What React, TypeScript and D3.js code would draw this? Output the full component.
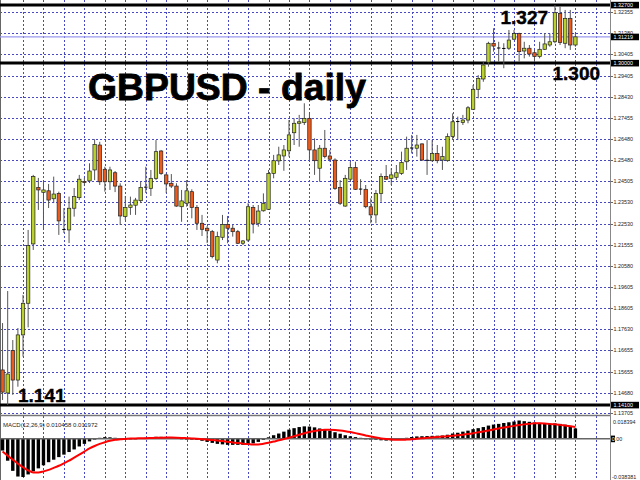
import React from "react";
import * as d3 from "d3";

// ---- data ----
const opens = [
  1.1573, 1.1466, 1.1663, 1.1526, 1.1736, 1.1883, 1.2159, 1.2422, 1.2399, 1.2406,
  1.2369, 1.2394, 1.2228, 1.2224, 1.2325, 1.2374, 1.2450, 1.2452, 1.2503, 1.2619,
  1.2506, 1.2448, 1.2490, 1.2428, 1.2286, 1.2329, 1.2339, 1.2360, 1.2422, 1.2417,
  1.2464, 1.2591, 1.2480, 1.2441, 1.2428, 1.2332, 1.2348, 1.2402, 1.2329, 1.2255,
  1.2232, 1.2216, 1.2084, 1.2190, 1.2250, 1.2232, 1.2216, 1.2162, 1.2177, 1.2329,
  1.2255, 1.2313, 1.2320, 1.2487, 1.2545, 1.2568, 1.2592, 1.2676, 1.2720, 1.2723,
  1.2743, 1.2596, 1.2511, 1.2604, 1.2568, 1.2549, 1.2422, 1.2335, 1.2460, 1.2515,
  1.2413, 1.2413, 1.2332, 1.2294, 1.2394, 1.2472, 1.2464, 1.2469, 1.2487, 1.2541,
  1.2604, 1.2604, 1.2624, 1.2549, 1.2546, 1.2580, 1.2549, 1.2546, 1.2658, 1.2727,
  1.2723, 1.2735, 1.2785, 1.2878, 1.2926, 1.3004, 1.3092, 1.3069, 1.3069, 1.3069,
  1.3111, 1.3138, 1.3056, 1.3069, 1.3048, 1.3030, 1.3064, 1.3084, 1.3099, 1.3231,
  1.3092, 1.3208, 1.3084,
];
const highs = [
  1.1791, 1.1940, 1.1712, 1.1768, 1.1922, 1.2224, 1.2480, 1.2466, 1.2456, 1.2438,
  1.2472, 1.2402, 1.2326, 1.2379, 1.2419, 1.2480, 1.2466, 1.2534, 1.2646, 1.2634,
  1.2518, 1.2518, 1.2498, 1.2441, 1.2382, 1.2379, 1.2373, 1.2448, 1.2518, 1.2503,
  1.2642, 1.2596, 1.2487, 1.2484, 1.2441, 1.2410, 1.2456, 1.2413, 1.2340, 1.2294,
  1.2242, 1.2224, 1.2216, 1.2294, 1.2289, 1.2247, 1.2224, 1.2177, 1.2348, 1.2340,
  1.2340, 1.2394, 1.2503, 1.2573, 1.2611, 1.2619, 1.2735, 1.2743, 1.2759, 1.2813,
  1.2766, 1.2650, 1.2619, 1.2689, 1.2596, 1.2557, 1.2456, 1.2480, 1.2541, 1.2541,
  1.2460, 1.2433, 1.2371, 1.2410, 1.2487, 1.2526, 1.2511, 1.2526, 1.2588, 1.2658,
  1.2666, 1.2666, 1.2627, 1.2642, 1.2642, 1.2619, 1.2611, 1.2673, 1.2766, 1.2751,
  1.2759, 1.2800, 1.2898, 1.2944, 1.3006, 1.3099, 1.3162, 1.3099, 1.3092, 1.3154,
  1.3154, 1.3141, 1.3099, 1.3084, 1.3061, 1.3099, 1.3138, 1.3138, 1.3270, 1.3262,
  1.3247, 1.3247, 1.3138,
];
const lows = [
  1.1433, 1.1410, 1.1457, 1.1495, 1.1635, 1.1771, 1.2131, 1.2317, 1.2233, 1.2326,
  1.2349, 1.2201, 1.2210, 1.2163, 1.2286, 1.2363, 1.2428, 1.2442, 1.2456, 1.2433,
  1.2402, 1.2410, 1.2400, 1.2247, 1.2270, 1.2294, 1.2294, 1.2349, 1.2396, 1.2382,
  1.2456, 1.2480, 1.2396, 1.2419, 1.2332, 1.2262, 1.2332, 1.2278, 1.2224, 1.2196,
  1.2163, 1.2092, 1.2069, 1.2177, 1.2162, 1.2193, 1.2159, 1.2154, 1.2169, 1.2208,
  1.2239, 1.2309, 1.2317, 1.2464, 1.2526, 1.2499, 1.2565, 1.2619, 1.2611, 1.2712,
  1.2549, 1.2480, 1.2448, 1.2557, 1.2541, 1.2410, 1.2340, 1.2332, 1.2448, 1.2410,
  1.2387, 1.2325, 1.2255, 1.2255, 1.2355, 1.2456, 1.2433, 1.2456, 1.2480, 1.2503,
  1.2580, 1.2565, 1.2545, 1.2480, 1.2541, 1.2534, 1.2503, 1.2541, 1.2642, 1.2642,
  1.2712, 1.2720, 1.2782, 1.2836, 1.2913, 1.2983, 1.3053, 1.3006, 1.2976, 1.3061,
  1.3107, 1.3006, 1.3022, 1.3030, 1.3006, 1.3022, 1.3061, 1.3076, 1.3092, 1.3084,
  1.3069, 1.3061, 1.3076,
];
const closes = [
  1.1470, 1.1554, 1.1526, 1.1736, 1.1883, 1.2151, 1.2472, 1.2410, 1.2410, 1.2363,
  1.2391, 1.2266, 1.2226, 1.2325, 1.2379, 1.2460, 1.2444, 1.2498, 1.2622, 1.2448,
  1.2448, 1.2503, 1.2428, 1.2289, 1.2329, 1.2340, 1.2363, 1.2422, 1.2423, 1.2464,
  1.2588, 1.2487, 1.2438, 1.2428, 1.2335, 1.2359, 1.2406, 1.2329, 1.2255, 1.2227,
  1.2220, 1.2100, 1.2193, 1.2250, 1.2232, 1.2216, 1.2162, 1.2173, 1.2332, 1.2252,
  1.2312, 1.2348, 1.2487, 1.2546, 1.2573, 1.2596, 1.2666, 1.2720, 1.2727, 1.2743,
  1.2596, 1.2546, 1.2604, 1.2565, 1.2553, 1.2417, 1.2348, 1.2464, 1.2515, 1.2413,
  1.2414, 1.2332, 1.2294, 1.2394, 1.2472, 1.2460, 1.2480, 1.2490, 1.2537, 1.2604,
  1.2605, 1.2619, 1.2549, 1.2548, 1.2580, 1.2546, 1.2565, 1.2658, 1.2727, 1.2728,
  1.2735, 1.2792, 1.2878, 1.2929, 1.2991, 1.3092, 1.3079, 1.3070, 1.3068, 1.3107,
  1.3138, 1.3053, 1.3069, 1.3042, 1.3030, 1.3064, 1.3089, 1.3099, 1.3234, 1.3095,
  1.3208, 1.3084, 1.31219,
];
const macdMain = [
  -0.0118, -0.0220, -0.0322, -0.0379, -0.038381, -0.0358, -0.0327, -0.0297, -0.0266, -0.0235,
  -0.0210, -0.0184, -0.0159, -0.0133, -0.0107, -0.0077, -0.0051, -0.0026, -0.0005, 0.0010,
  0.0017, 0.0015, 0.0010, 0.0005, 0.0003, 0.0002, 0.0003, 0.0007, 0.0010, 0.0013,
  0.0020, 0.0020, 0.0017, 0.0013, 0.0007, 0.0003, 0.0000, -0.0005, -0.0011, -0.0020,
  -0.0031, -0.0041, -0.0051, -0.0056, -0.0061, -0.0061, -0.0061, -0.0061, -0.0056, -0.0046,
  -0.0031, -0.0010, 0.0015, 0.0036, 0.0053, 0.0072, 0.0092, 0.0107, 0.0118, 0.0125,
  0.0123, 0.0115, 0.0104, 0.0094, 0.0082, 0.0066, 0.0051, 0.0036, 0.0026, 0.0017,
  0.0010, 0.0003, -0.0003, -0.0009, -0.0015, -0.0018, -0.0015, -0.0010, -0.0003, 0.0010,
  0.0018, 0.0024, 0.0026, 0.0028, 0.0030, 0.0031, 0.0033, 0.0041, 0.0053, 0.0061,
  0.0072, 0.0082, 0.0097, 0.0107, 0.0118, 0.0133, 0.0143, 0.0150, 0.0159, 0.0166,
  0.0174, 0.018394, 0.0177, 0.0171, 0.0164, 0.0160, 0.0157, 0.0153, 0.0155, 0.0150,
  0.0142, 0.0130, 0.010458,
];
const macdSignal = [
  -0.0128, -0.0169, -0.0210, -0.0251, -0.0286, -0.0317, -0.0338, -0.0338, -0.0327, -0.0312,
  -0.0292, -0.0271, -0.0246, -0.0220, -0.0189, -0.0159, -0.0128, -0.0097, -0.0072, -0.0051,
  -0.0034, -0.0020, -0.0010, -0.0005, -0.0001, 0.0003, 0.0004, 0.0005, 0.0006, 0.0008,
  0.0010, 0.0011, 0.0012, 0.0012, 0.0011, 0.0009, 0.0006, 0.0003, 0.0000, -0.0004,
  -0.0008, -0.0013, -0.0018, -0.0023, -0.0030, -0.0036, -0.0043, -0.0049, -0.0053, -0.0056,
  -0.0056, -0.0050, -0.0040, -0.0028, -0.0015, -0.0003, 0.0010, 0.0025, 0.0040, 0.0055,
  0.0068, 0.0078, 0.0086, 0.0090, 0.0091, 0.0089, 0.0084, 0.0077, 0.0068, 0.0057,
  0.0045, 0.0034, 0.0023, 0.0013, 0.0004, -0.0003, -0.0008, -0.0010, -0.0010, -0.0008,
  -0.0005, 0.0000, 0.0005, 0.0010, 0.0014, 0.0018, 0.0022, 0.0026, 0.0030, 0.0035,
  0.0041, 0.0048, 0.0056, 0.0065, 0.0074, 0.0084, 0.0094, 0.0104, 0.0113, 0.0122,
  0.0130, 0.0138, 0.0145, 0.0150, 0.0156, 0.0156, 0.0154, 0.0150, 0.0145, 0.0140,
  0.0133, 0.0126, 0.011972,
];
const priceTicks = [
  1.32355, 1.3138, 1.30405, 1.29405, 1.2843, 1.27455, 1.2648, 1.2548, 1.24505, 1.2353,
  1.2253, 1.21555, 1.2058, 1.19605, 1.18605, 1.1763, 1.16655, 1.15655, 1.1468, 1.13705,
];
const levelValues = [1.327, 1.3, 1.141];
const levelTexts = ["1.327", "1.300", "1.141"];
const lastPrice = 1.31219;
const macdAxisMax = 0.018394;
const macdAxisMin = -0.038381;
const titleText = "GBPUSD - daily";
const macdLegend = "MACD(12,26,9) 0.010458 0.011972";

const GRID = "#4848c2";
const BULL = "#bad02c";
const BEAR = "#ec5a1c";
const AXIS_X = 610.5;

export default function App() {
  const n = closes.length;
  const x = d3.scaleLinear().domain([0, n - 1]).range([2.56, 575.4]);
  const y = d3.scaleLinear().domain([1.141, 1.327]).range([405, 5]);
  const ym = d3.scaleLinear().domain([macdAxisMin, macdAxisMax]).range([477, 420.5]);
  const f5 = d3.format(".5f");
  const snap = (v: number) => Math.round(v) + 0.5;

  const gridIdx = d3.range(4, n + 5, 4);
  const signalPath = d3
    .line<number>()
    .x((_, i) => x(i))
    .y((v) => ym(v))
    .curve(d3.curveMonotoneX)(macdSignal) as string;

  const bw = 3.4;
  const hw = 3.4;
  const zeroY = ym(0);

  return (
    <svg
      width={640}
      height={480}
      style={{ position: "absolute", left: 0, top: 0, background: "#fff" }}
      fontFamily="'Liberation Sans', Arial, sans-serif"
    >
      <defs>
        <clipPath id="mainClip">
          <rect x={0} y={0} width={AXIS_X} height={415} />
        </clipPath>
        <clipPath id="macdClip">
          <rect x={0} y={417} width={AXIS_X} height={63} />
        </clipPath>
      </defs>
      <rect x={0} y={0} width={640} height={480} fill="#fff" />

      {/* horizontal grid */}
      {priceTicks.map((t) => (
        <line key={"hg" + t} x1={0} x2={AXIS_X} y1={snap(y(t))} y2={snap(y(t))}
          stroke={GRID} strokeWidth={1} strokeDasharray="2,2" />
      ))}
      {/* vertical grid */}
      {gridIdx.map((b) => (
        <line key={"vg" + b} x1={snap(x(b))} x2={snap(x(b))} y1={0} y2={480}
          stroke={GRID} strokeWidth={1} strokeDasharray="2,2" />
      ))}

      {/* left border */}
      <line x1={0.5} x2={0.5} y1={0} y2={480} stroke="#666" strokeWidth={1} />

      {/* last price line */}
      <line x1={0} x2={AXIS_X} y1={y(lastPrice)} y2={y(lastPrice)} stroke="#9a9af0" strokeWidth={1.3} />

      {/* level lines */}
      {levelValues.map((v) => (
        <line key={"lv" + v} x1={0} x2={AXIS_X} y1={y(v)} y2={y(v)} stroke="#000" strokeWidth={3} />
      ))}

      {/* candles */}
      <g clipPath="url(#mainClip)">
        {closes.map((c, i) => {
          const o = opens[i];
          const cx = x(i);
          const yo = y(o);
          const yc = y(c);
          const top = Math.min(yo, yc);
          const hgt = Math.abs(yo - yc);
          const doji = hgt < 1;
          return (
            <g key={"c" + i}>
              <line x1={cx} x2={cx} y1={y(highs[i])} y2={y(lows[i])} stroke="#555" strokeWidth={1} />
              {doji ? (
                <line x1={cx - bw / 2} x2={cx + bw / 2} y1={yc} y2={yc} stroke="#000" strokeWidth={1} />
              ) : (
                <rect x={cx - bw / 2} y={top} width={bw} height={hgt}
                  fill={c >= o ? BULL : BEAR} stroke="#222" strokeWidth={0.7} />
              )}
            </g>
          );
        })}
      </g>

      {/* separator between panels */}
      <line x1={0} x2={AXIS_X} y1={415.5} y2={415.5} stroke="#777" strokeWidth={1.5} />

      {/* MACD histogram and signal */}
      <g clipPath="url(#macdClip)">
        {macdMain.map((v, i) => (
          <rect key={"h" + i} x={x(i) - hw / 2} y={Math.min(ym(v), zeroY)} width={hw}
            height={Math.max(0.8, Math.abs(ym(v) - zeroY))} fill="#000" />
        ))}
        <line x1={0} x2={AXIS_X} y1={zeroY} y2={zeroY} stroke="#666" strokeWidth={1.5} />
        <path d={signalPath} fill="none" stroke="#ff0000" strokeWidth={2} />
      </g>

      {/* right axis */}
      <line x1={AXIS_X} x2={AXIS_X} y1={0} y2={480} stroke="#888" strokeWidth={1} />
      {priceTicks.map((t) => (
        <g key={"tl" + t}>
          <line x1={AXIS_X} x2={AXIS_X + 2.5} y1={snap(y(t))} y2={snap(y(t))} stroke="#666" strokeWidth={1} />
          <text x={613.5} y={y(t) + 2} fontSize={5.4} fill="#222">{f5(t)}</text>
        </g>
      ))}
      {[...levelValues, lastPrice].map((v) => (
        <g key={"lb" + v}>
          <rect x={611} y={y(v) - 3.2} width={28} height={6.6} fill="#000" />
          <text x={613.5} y={y(v) + 2} fontSize={5.4} fill="#fff">{f5(v)}</text>
        </g>
      ))}
      <text x={613} y={ym(macdAxisMax) + 3.5} fontSize={5.4} fill="#222">{String(macdAxisMax)}</text>
      <rect x={611} y={zeroY - 3.2} width={4} height={6.6} fill="#000" />
      <text x={611.8} y={zeroY + 2} fontSize={5.4} fill="#fff">0</text>
      <text x={614.8} y={zeroY + 2} fontSize={5.4} fill="#222">.00</text>
      <text x={612} y={ym(macdAxisMin) + 2} fontSize={5.4} fill="#222">{String(macdAxisMin)}</text>

      {/* MACD legend */}
      <text x={3} y={426.5} fontSize={6} fill="#222">{macdLegend}</text>

      {/* title and level annotations */}
      <text x={88} y={100} fontSize={37} fontWeight="bold" fill="#000" stroke="#000" strokeWidth={0.8}
        textLength={278} lengthAdjust="spacingAndGlyphs">{titleText}</text>
      <text x={500.5} y={24} fontSize={19} fontWeight="bold" fill="#000" stroke="#000" strokeWidth={0.4}>{levelTexts[0]}</text>
      <text x={552.5} y={80} fontSize={19} fontWeight="bold" fill="#000" stroke="#000" strokeWidth={0.4}>{levelTexts[1]}</text>
      <text x={18} y={401.5} fontSize={19} fontWeight="bold" fill="#000" stroke="#000" strokeWidth={0.4}>{levelTexts[2]}</text>
    </svg>
  );
}
